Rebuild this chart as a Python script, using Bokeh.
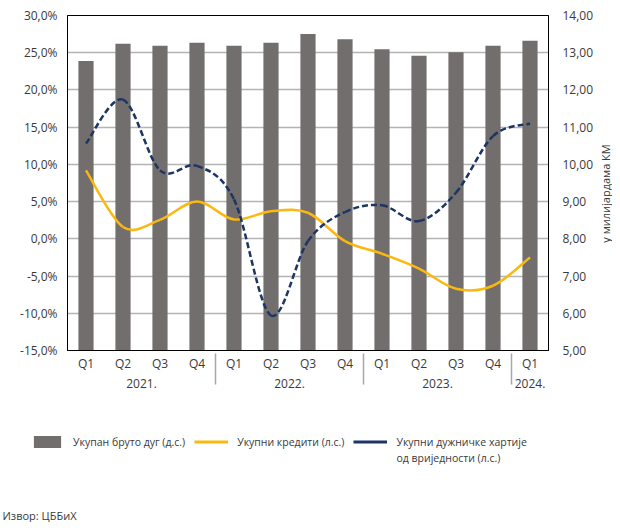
import math
from bokeh.plotting import figure
from bokeh.layouts import column, row
from bokeh.models import (FactorRange, Range1d, LinearAxis, FixedTicker, ColumnDataSource,
                          Legend, LegendItem, Label)
from bokeh.embed import file_html
from bokeh.resources import INLINE

# ---------------- data ----------------
years = ["2021.", "2021.", "2021.", "2021.",
         "2022.", "2022.", "2022.", "2022.",
         "2023.", "2023.", "2023.", "2023.",
         "2024."]
quarters = ["Q1", "Q2", "Q3", "Q4",
            "Q1", "Q2", "Q3", "Q4",
            "Q1", "Q2", "Q3", "Q4",
            "Q1"]
gross_debt = [12.78, 13.24, 13.19, 13.27, 13.19, 13.27, 13.50, 13.36,
              13.09, 12.92, 13.01, 13.19, 13.32]          # bn KM, right axis
loans = [9.2, 1.6, 2.55, 5.0, 2.6, 3.7, 3.5, -0.3,
         -2.0, -4.0, -6.7, -6.3, -2.5]                    # %, left axis
securities = [12.8, 18.7, 9.2, 9.8, 5.3, -10.3, -0.3, 3.6,
              4.5, 2.4, 6.2, 13.8, 15.5]                  # %, left axis

left_ticks = [-15, -10, -5, 0, 5, 10, 15, 20, 25, 30]
left_labels = ["-15,0%", "-10,0%", "-5,0%", "0,0%", "5,0%", "10,0%",
               "15,0%", "20,0%", "25,0%", "30,0%"]
right_ticks = [5, 6, 7, 8, 9, 10, 11, 12, 13, 14]
right_labels = ["5,00", "6,00", "7,00", "8,00", "9,00", "10,00",
                "11,00", "12,00", "13,00", "14,00"]

name_bars = "Укупан бруто дуг (д.с.)"
name_loans = "Укупни кредити (л.с.)"
name_sec_1 = "Укупни дужничке хартије"
name_sec_2 = "од вриједности (л.с.)"
right_title = "у милијардама КМ"
source_note = "Извор: ЦББиХ"

# ---------------- styling ----------------
FONT = "Open Sans"
TXT = "#3a3a3a"
BAR = "#726e6d"
YEL = "#fbb910"
NAVY = "#1c3563"
GRID = "#b4b4b4"


def no_align(fig):
    if hasattr(fig, "frame_align"):
        fig.frame_align = False


factors = list(zip(years, quarters))
x_range = FactorRange(*factors, group_padding=0, factor_padding=0, range_padding=0)

p = figure(width=596, height=410, x_range=x_range, y_range=Range1d(-15, 30),
           output_backend="svg", toolbar_location=None,
           min_border_left=67, min_border_right=47, min_border_top=15, min_border_bottom=60)
no_align(p)
p.extra_y_ranges = {"right": Range1d(5, 14)}

p.outline_line_color = "black"
p.outline_line_width = 1
p.background_fill_color = "white"
p.border_fill_color = "white"

# grid
p.xgrid.visible = False
p.ygrid.ticker = FixedTicker(ticks=left_ticks)
p.ygrid.grid_line_color = GRID
p.ygrid.grid_line_width = 1.5

# left axis
la = p.yaxis[0]
la.ticker = FixedTicker(ticks=left_ticks)
la.major_label_overrides = {t: s for t, s in zip(left_ticks, left_labels)}
la.major_tick_in = 0
la.major_tick_out = 0
la.minor_tick_in = 0
la.minor_tick_out = 0
la.axis_line_color = "black"
la.major_label_standoff = 10
la.major_label_text_font = FONT
la.major_label_text_font_size = "12px"
la.major_label_text_color = TXT

# right axis
ra = LinearAxis(y_range_name="right", ticker=FixedTicker(ticks=right_ticks))
ra.major_label_overrides = {t: s for t, s in zip(right_ticks, right_labels)}
ra.major_tick_in = 0
ra.major_tick_out = 0
ra.minor_tick_in = 0
ra.minor_tick_out = 0
ra.axis_line_color = "black"
ra.major_label_standoff = 14
ra.major_label_text_font = FONT
ra.major_label_text_font_size = "12px"
ra.major_label_text_color = TXT
ra.major_label_text_align = "left"
p.add_layout(ra, "right")

# x axis
xa = p.xaxis[0]
xa.major_tick_in = 0
xa.major_tick_out = 0
xa.axis_line_color = "black"
xa.major_label_standoff = 4
xa.major_label_text_font = FONT
xa.major_label_text_font_size = "12px"
xa.major_label_text_color = TXT
xa.group_text_font = FONT
xa.group_text_font_size = "12px"
xa.group_text_font_style = "normal"
xa.group_text_color = TXT
xa.separator_line_color = "#a8a8a8"
xa.separator_line_width = 1.5

# bars
bar_src = ColumnDataSource(dict(x=factors, top=gross_debt, bottom=[5] * len(factors)))
p.vbar(x="x", top="top", bottom="bottom", width=0.41, source=bar_src,
       y_range_name="right", fill_color=BAR, line_color=None)

# smoothed lines via bezier segments (Catmull-Rom control points)
def bez_source(vals):
    n = len(vals)
    xs = [i + 0.5 for i in range(n)]
    d = dict(x0=[], y0=[], x1=[], y1=[], cx0=[], cy0=[], cx1=[], cy1=[])
    for i in range(n - 1):
        a = (xs[max(i - 1, 0)], vals[max(i - 1, 0)])
        b = (xs[i], vals[i])
        c = (xs[i + 1], vals[i + 1])
        e = (xs[min(i + 2, n - 1)], vals[min(i + 2, n - 1)])
        d["x0"].append(b[0]); d["y0"].append(b[1])
        d["x1"].append(c[0]); d["y1"].append(c[1])
        d["cx0"].append(b[0] + (c[0] - a[0]) / 6)
        d["cy0"].append(b[1] + (c[1] - a[1]) / 6)
        d["cx1"].append(c[0] - (e[0] - b[0]) / 6)
        d["cy1"].append(c[1] - (e[1] - b[1]) / 6)
    return ColumnDataSource(d)

p.bezier(x0="x0", y0="y0", x1="x1", y1="y1", cx0="cx0", cy0="cy0",
         cx1="cx1", cy1="cy1", source=bez_source(loans),
         line_color=YEL, line_width=2.5)
p.bezier(x0="x0", y0="y0", x1="x1", y1="y1", cx0="cx0", cy0="cy0",
         cx1="cx1", cy1="cy1", source=bez_source(securities),
         line_color=NAVY, line_width=2.5, line_dash="6 3")

# ---------------- right-axis title strip ----------------
p3 = figure(width=16, height=410, x_range=Range1d(0, 16), y_range=Range1d(0, 410),
            output_backend="svg", toolbar_location=None, min_border=0)
no_align(p3)
p3.axis.visible = False
p3.grid.visible = False
p3.outline_line_color = None
p3.add_layout(Label(x=9, y=217, text=right_title, angle=math.pi / 2,
                    text_align="center", text_baseline="middle",
                    text_font=FONT, text_font_size="11px", text_color=TXT))

# ---------------- legend + source panel ----------------
p2 = figure(width=612, height=112, x_range=Range1d(0, 612), y_range=Range1d(0, 112),
            output_backend="svg", toolbar_location=None, min_border=0)
no_align(p2)
p2.axis.visible = False
p2.grid.visible = False
p2.outline_line_color = None
p2.background_fill_color = "white"
p2.border_fill_color = "white"

g_bar = p2.vbar(x=[-100], top=[-100], bottom=[-101], width=1, fill_color=BAR, line_color=None)
g_loans = p2.line(x=[-100, -99], y=[-100, -100], line_color=YEL, line_width=3)
g_sec = p2.line(x=[-100, -99], y=[-100, -100], line_color=NAVY, line_width=3)

legend = Legend(items=[LegendItem(label=name_bars, renderers=[g_bar]),
                       LegendItem(label=name_loans, renderers=[g_loans]),
                       LegendItem(label=name_sec_1, renderers=[g_sec])],
                orientation="horizontal", location=(30, 73),
                padding=0, margin=0, spacing=9, label_standoff=9,
                glyph_width=34, glyph_height=15, label_height=15,
                label_text_font=FONT, label_text_font_size="10.5px",
                label_text_color=TXT, border_line_color=None,
                background_fill_alpha=0)
p2.add_layout(legend, "center")

p2.add_layout(Label(x=396, y=65, text=name_sec_2, text_font=FONT, text_font_size="10.5px",
                    text_color=TXT, text_baseline="middle"))
p2.add_layout(Label(x=2, y=0, text=source_note, text_font=FONT, text_font_size="11px",
                    text_color=TXT, text_baseline="bottom"))

layout = column(row(p, p3, spacing=0), p2, spacing=0)
open("out.html", "w").write(file_html(layout, INLINE))
